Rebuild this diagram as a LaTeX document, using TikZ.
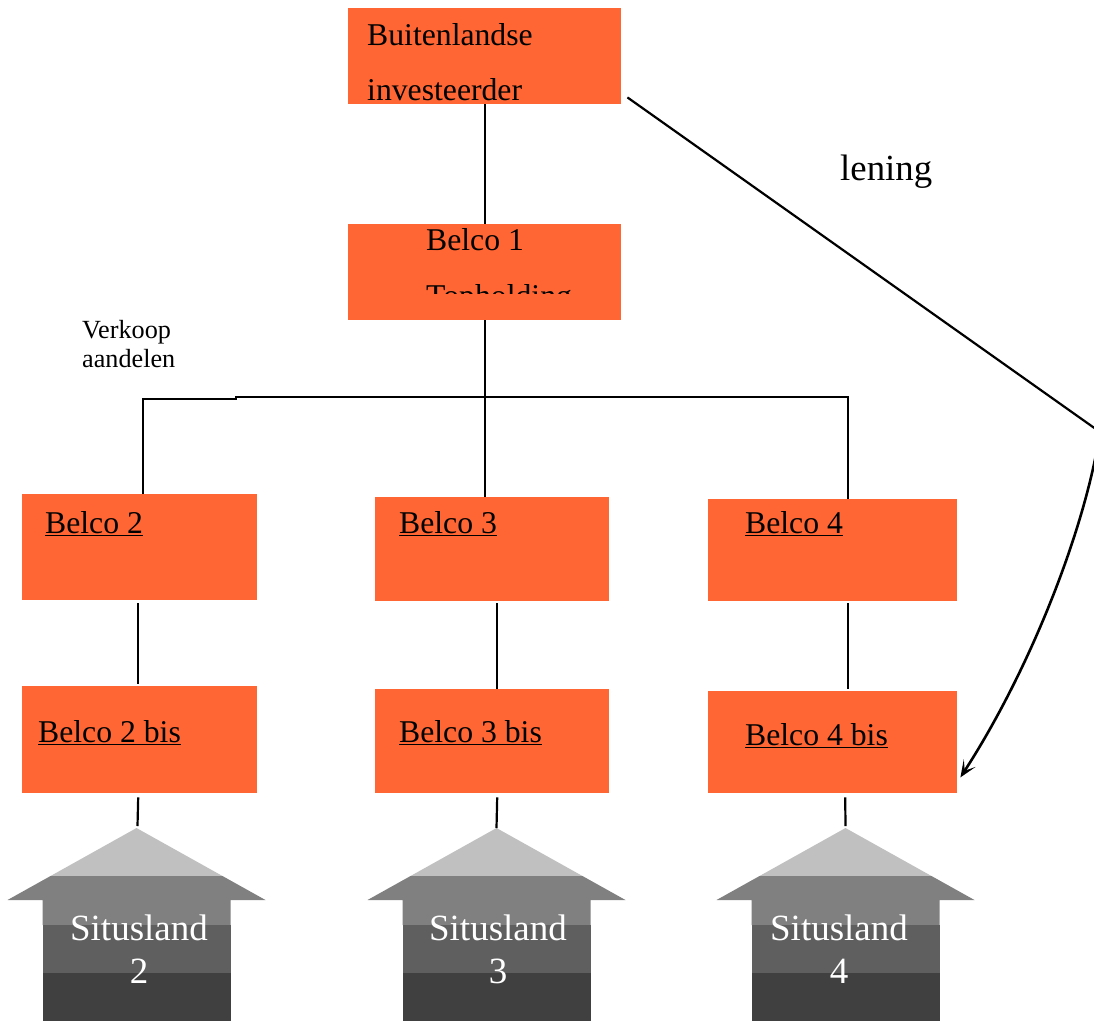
\documentclass[tikz,border=0pt]{standalone}
\usepackage{fontspec}
\setmainfont{Liberation Serif}
\usetikzlibrary{calc,arrows.meta}
\definecolor{boxorange}{HTML}{FF6633}
\definecolor{roofl}{HTML}{C0C0C0}
\definecolor{roofm}{HTML}{808080}
\definecolor{bodyd}{HTML}{5F5F5F}
\definecolor{bodyk}{HTML}{404040}
\newcommand\bigtxt{\fontsize{31.7}{38}\selectfont}
\newcommand\situshouse[4]{%
  \fill[roofl] (#1,828) -- (#1+86,876) -- (#1-86,876) -- cycle;
  \fill[roofm] (#1-86,876) -- (#1+86,876) -- (#1+129,900) -- (#1+94,900) -- (#1+94,925) -- (#1-94,925) -- (#1-94,900) -- (#1-129,900) -- cycle;
  \fill[bodyd] (#1-94,925) rectangle (#1+94,973);
  \fill[bodyk] (#1-94,973) rectangle (#1+94,1021);
  \coordinate (#2) at (#1,828);
  \node[housetxt] (#2a) at (#4,940) {Situsland};
  \node[housetxt] (#2b) at (#4,983) {#3};
}
\begin{document}
\begin{tikzpicture}[x=1pt,y=-1pt,
  obox/.style={fill=boxorange,draw=none,inner sep=0,anchor=north west},
  btxt/.style={inner sep=0,anchor=base west,font=\bigtxt},
  housetxt/.style={inner sep=0,anchor=base,text=white,font=\fontsize{37}{44}\selectfont},
  conn/.style={line width=2.2pt,black}]
\useasboundingbox (0,0) rectangle (1094,1021);
% boxes
\node[obox,minimum width=273pt,minimum height=96pt] (top) at (348,8) {};
\node[obox,minimum width=273pt,minimum height=96pt] (b1) at (348,224) {};
\node[obox,minimum width=235pt,minimum height=106pt] (b2) at (22,494) {};
\node[obox,minimum width=234pt,minimum height=104pt] (b3) at (375,497) {};
\node[obox,minimum width=249pt,minimum height=102pt] (b4) at (708,499) {};
\node[obox,minimum width=235pt,minimum height=107pt] (b2bis) at (22,686) {};
\node[obox,minimum width=234pt,minimum height=104pt] (b3bis) at (375,689) {};
\node[obox,minimum width=249pt,minimum height=102pt] (b4bis) at (708,691) {};
% texts
\node[btxt] (ttop1) at (367,45) {Buitenlandse};
\node[btxt] (ttop2) at (367,100) {investeerder};
\node[btxt] (tb1) at (426,250) {Belco 1};
\begin{scope}
  \clip (348,224) rectangle (621,293);
  \node[btxt] (tb1b) at (426,306) {Topholding};
\end{scope}
\node[btxt] (tb2) at (45,533) {\underline{Belco 2}};
\node[btxt] (tb3) at (399,533) {\underline{Belco 3}};
\node[btxt] (tb4) at (745,533) {\underline{Belco 4}};
\node[btxt] (tb2bis) at (38,742) {\underline{Belco 2 bis}};
\node[btxt] (tb3bis) at (399,742) {\underline{Belco 3 bis}};
\node[btxt] (tb4bis) at (745,745) {\underline{Belco 4 bis}};
\node[inner sep=0,anchor=base west,font=\fontsize{36.8}{44}\selectfont] (lening) at (840,180) {lening};
\node[inner sep=0,anchor=base west,font=\fontsize{26.2}{29}\selectfont] (verk1) at (82,338) {Verkoop};
\node[inner sep=0,anchor=base west,font=\fontsize{26.2}{29}\selectfont] (verk2) at (82,367) {aandelen};
% houses
\situshouse{136.5}{h2}{2}{139}
\situshouse{496.5}{h3}{3}{498}
\situshouse{845.5}{h4}{4}{839}
% connectors
\draw[conn] (top.south) -- (b1.north);
\draw[conn] (b1.south) -- (b1.south |- b3.north);
\draw[conn] ($(b2.north)+(3.5,0)$) -- ++(0,-95) -- (236,399) -- (236,397) -| ($(b4.north)+(15.5,0)$);
\draw[conn] ($(b2.south)+(-1.5,3)$) -- ($(b2bis.north)+(-1.5,-2)$);
\draw[conn] ($(b3.south)+(5,2)$) -- ($(b3bis.north)+(5,0)$);
\draw[conn] ($(b4.south)+(15.5,2)$) -- ($(b4bis.north)+(15.5,-2)$);
\draw[conn] ($(b2bis.south)+(-1.5,4)$) -- ($(h2)+(1,-2)$);
\draw[conn] ($(b3bis.south)+(5,4)$) -- (h3);
\draw[conn] ($(b4bis.south)+(12.5,4)$) -- ($(h4)+(0,-2)$);
% lening arrow
\coordinate (bend) at (1100,432);
\draw[conn] ($(top.south east)+(6,-7)$) -- (bend);
\draw[conn,line width=2.6pt,-{Stealth[length=17pt,width=14pt,inset=9pt]}] (bend) .. controls (1085,530) and (1030,670) .. ($(b4bis.south east)+(3,-16)$);
\end{tikzpicture}
\end{document}
